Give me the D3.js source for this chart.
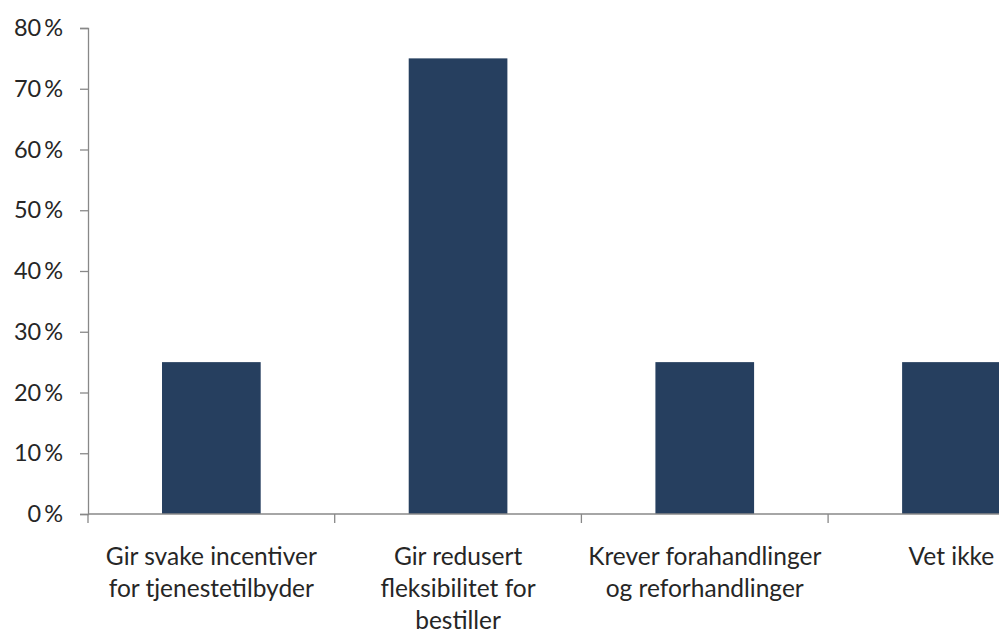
<!DOCTYPE html>
<html>
<head>
<meta charset="utf-8">
<script src="https://cdn.jsdelivr.net/npm/d3@7"></script>
<style>
  html, body { margin: 0; padding: 0; background: #fff; }
  svg { display: block; }
  text { font-family: Lato, "Open Sans", sans-serif; fill: #262626; }
</style>
</head>
<body>
<svg id="chart" width="999" height="632"></svg>
<script>
// Answer categories (each label split into its display lines)
const categories = [
  ["Gir svake incentiver", "for tjenestetilbyder"],
  ["Gir redusert", "fleksibilitet for", "bestiller"],
  ["Krever forahandlinger", "og reforhandlinger"],
  ["Vet ikke"]
];
// Share of respondents, in percent
const values = [25, 75, 25, 25];
// Y axis tick values, in percent
const yTicks = [0, 10, 20, 30, 40, 50, 60, 70, 80];

const svg = d3.select("#chart");
const plotLeft = 88, plotTop = 28, plotBottom = 514;
const step = 246.7;

const keys = categories.map((d, i) => i);
const x = d3.scaleBand()
  .domain(keys)
  .range([plotLeft, plotLeft + step * categories.length])
  .paddingInner(0.6)
  .paddingOuter(0.3);

const y = d3.scaleLinear().domain([0, 80]).range([plotBottom, plotTop]);

const axisColor = "#888888";

// Bars
svg.append("g").selectAll("rect")
  .data(values)
  .join("rect")
  .attr("x", (d, i) => x(i))
  .attr("y", d => y(d))
  .attr("width", x.bandwidth())
  .attr("height", d => y(0) - y(d))
  .attr("fill", "#263f5f");

// Y axis
const yAxis = svg.append("g")
  .attr("transform", `translate(${plotLeft},0)`)
  .call(d3.axisLeft(y).tickValues(yTicks).tickSize(8).tickPadding(17)
    .tickFormat(d => d + "\u2009%"));
yAxis.select(".domain").attr("stroke", axisColor).attr("stroke-width", 1.3);
yAxis.selectAll(".tick line").attr("stroke", axisColor).attr("stroke-width", 1.3);
yAxis.selectAll(".tick text")
  .attr("fill", "#262626")
  .style("font-size", "23.5px")
  .style("font-family", "Lato, 'Open Sans', sans-serif");

// X axis line with ticks at category boundaries
const gx = svg.append("g");
gx.append("line")
  .attr("x1", plotLeft).attr("x2", plotLeft + step * categories.length)
  .attr("y1", plotBottom).attr("y2", plotBottom)
  .attr("stroke", axisColor).attr("stroke-width", 1.3);
const bounds = d3.range(categories.length + 1).map(i => plotLeft + step * i);
gx.selectAll("line.tk")
  .data(bounds)
  .join("line")
  .attr("class", "tk")
  .attr("x1", d => d).attr("x2", d => d)
  .attr("y1", plotBottom).attr("y2", plotBottom + 9)
  .attr("stroke", axisColor).attr("stroke-width", 1.3);

// Category labels
const lbl = svg.append("g").selectAll("text")
  .data(categories)
  .join("text")
  .attr("text-anchor", "middle")
  .style("font-size", "24.5px")
  .attr("x", (d, i) => x(i) + x.bandwidth() / 2)
  .attr("y", 565);
lbl.selectAll("tspan")
  .data(d => d)
  .join("tspan")
  .attr("x", function () { return d3.select(this.parentNode).attr("x"); })
  .attr("dy", (d, j) => j === 0 ? 0 : 32)
  .text(d => d);
</script>
</body>
</html>
